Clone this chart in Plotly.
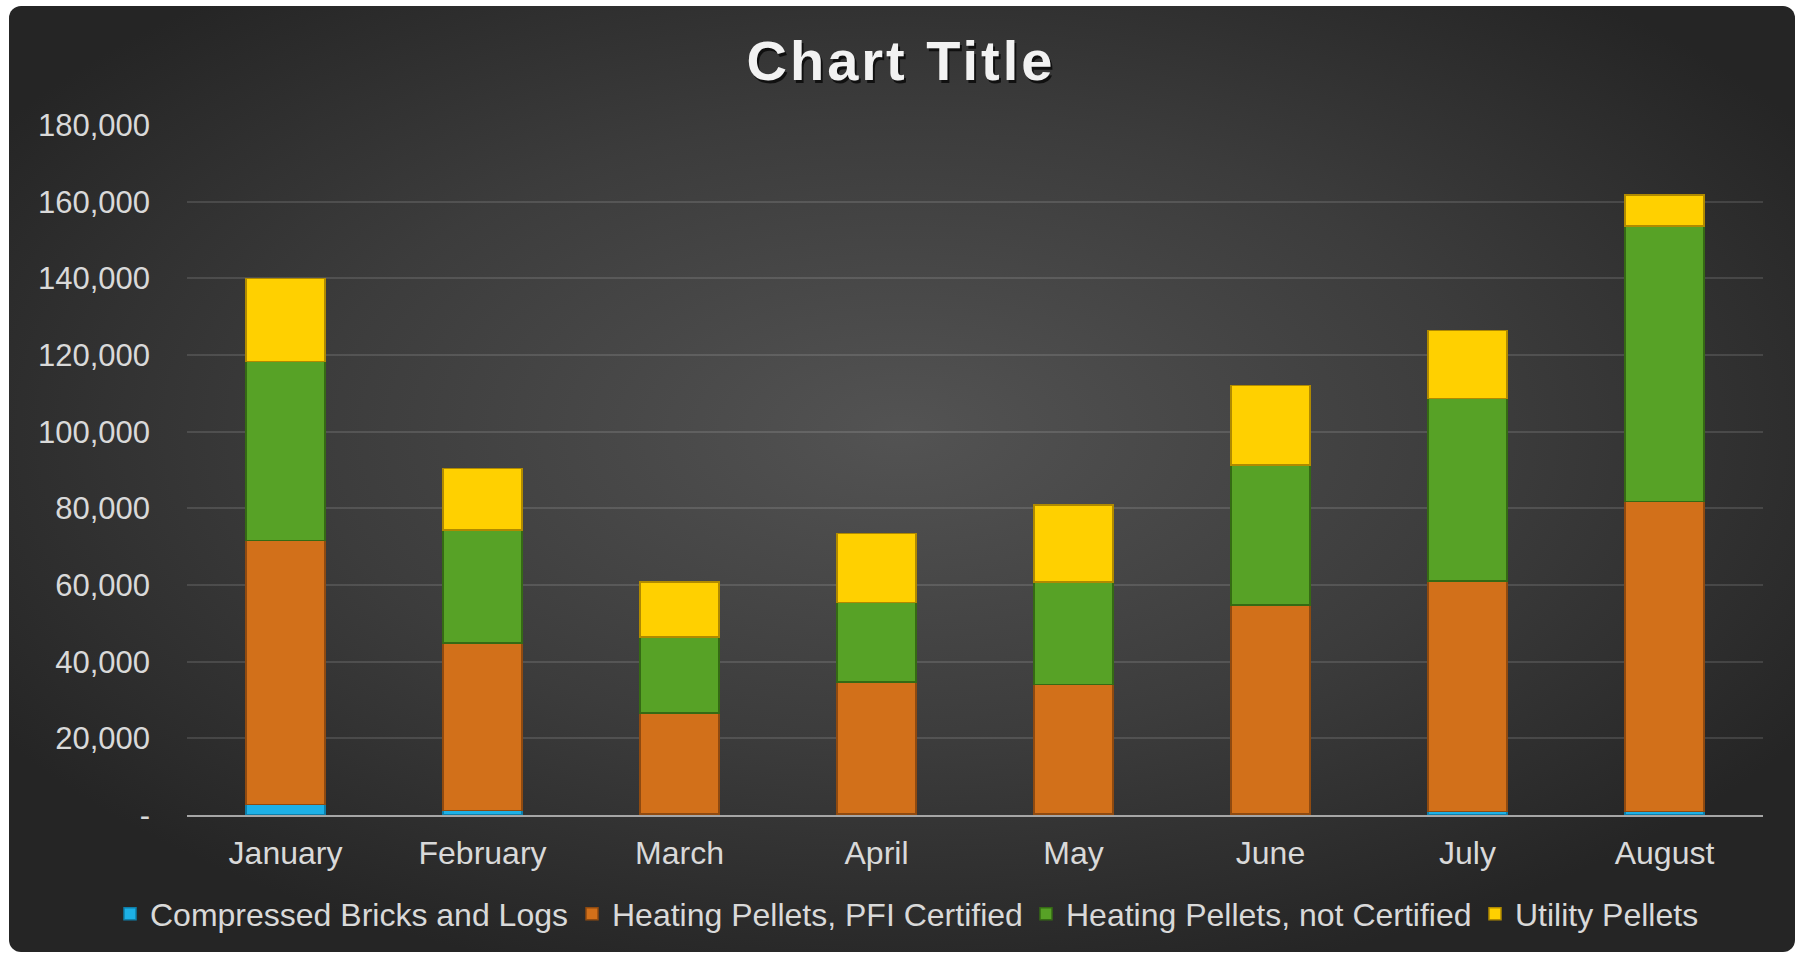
import plotly.graph_objects as go

# data
months = ["January", "February", "March", "April", "May", "June", "July", "August"]
compressed_bricks = [2700, 1200, 300, 200, 200, 300, 900, 900]
pfi_certified = [68900, 43700, 26350, 34500, 33900, 54500, 60200, 80900]
not_certified = [46700, 29400, 19750, 20700, 26700, 36550, 47600, 71900]
utility_pellets = [21700, 16150, 14400, 18000, 20100, 20650, 17700, 8100]

y_ticks = [0, 20000, 40000, 60000, 80000, 100000, 120000, 140000, 160000, 180000]
y_tick_text = ["-", "20,000", "40,000", "60,000", "80,000", "100,000",
               "120,000", "140,000", "160,000", "180,000"]

W, H = 1801, 954
ML, MR, MT, MB = 187, 38, 125, 139
PW, PH = W - ML - MR, H - MT - MB
FONT = "Liberation Sans, Arial, sans-serif"
TEXT = "#D9D9D9"

series = [
    ("Compressed Bricks and Logs", compressed_bricks, "#1DB0E6", "#0E7FAA"),
    ("Heating Pellets, PFI Certified", pfi_certified, "#D2701A", "#8F4A10"),
    ("Heating Pellets, not Certified", not_certified, "#57A226", "#356A14"),
    ("Utility Pellets", utility_pellets, "#FFD000", "#B08A00"),
]
# left edge (px) of each legend entry, one legend per series so the row does not wrap
legend_left = [110, 572, 1026, 1475]
legend_names = ["legend", "legend2", "legend3", "legend4"]

fig = go.Figure()
for (name, vals, col, edge), lg in zip(series, legend_names):
    fig.add_trace(go.Bar(
        x=months, y=vals, name=name, legend=lg,
        marker=dict(color=col, line=dict(color=edge, width=1.5)),
    ))

# dark rounded background with a soft radial glow
bg_svg = (
    "data:image/svg+xml;utf8,"
    "<svg xmlns='http://www.w3.org/2000/svg' width='1786' height='946' viewBox='0 0 1786 946'>"
    "<defs><radialGradient id='g' cx='50%' cy='45%' r='60%'>"
    "<stop offset='0%' stop-color='%23535353'/>"
    "<stop offset='55%' stop-color='%233c3c3c'/>"
    "<stop offset='100%' stop-color='%23252525'/>"
    "</radialGradient></defs>"
    "<rect x='0' y='0' width='1786' height='946' rx='12' ry='12' fill='url(%23g)'/>"
    "</svg>"
)
bx0, by0, bx1, by1 = 9, 6, 1795, 952
fig.add_layout_image(dict(
    source=bg_svg, xref="paper", yref="paper",
    x=(bx0 - ML) / PW, y=1 + (MT - by0) / PH,
    sizex=(bx1 - bx0) / PW, sizey=(by1 - by0) / PH,
    xanchor="left", yanchor="top", sizing="stretch", layer="below",
))

# title with a drop shadow
for dx, dy, c in [(2, -3, "rgba(0,0,0,0.7)"), (0, 0, "#F2F2F2")]:
    fig.add_annotation(
        text="<b>Chart Title</b>", xref="paper", yref="paper",
        x=(W / 2 - ML) / PW, y=1 + (MT - 60) / PH,
        xanchor="center", yanchor="middle", showarrow=False,
        xshift=dx, yshift=dy,
        font=dict(family=FONT, size=56, color=c),
    )

legend_style = dict(
    orientation="h", xref="container", yref="container",
    xanchor="left", y=1 - 914 / H, yanchor="middle",
    font=dict(family=FONT, size=32, color=TEXT),
    bgcolor="rgba(0,0,0,0)", itemwidth=30,
)
fig.update_layout(
    width=W, height=H,
    barmode="stack", bargap=0.6,
    paper_bgcolor="white", plot_bgcolor="rgba(0,0,0,0)",
    margin=dict(l=ML, r=MR, t=MT, b=MB, autoexpand=False),
    font=dict(family=FONT, size=32, color=TEXT),
    showlegend=True,
    **{lg: dict(legend_style, x=px / W) for lg, px in zip(legend_names, legend_left)},
)
fig.update_xaxes(
    showgrid=False, showline=True, linecolor="#A6A6A6", linewidth=2,
    ticks="", ticklabelstandoff=9,
    tickfont=dict(family=FONT, size=32, color=TEXT),
)
fig.update_yaxes(
    range=[0, 180000], tickvals=y_ticks, ticktext=y_tick_text,
    showgrid=True, gridcolor="rgba(255,255,255,0.12)", gridwidth=1.5,
    zeroline=False, showline=False, ticks="", ticklabelstandoff=36,
    tickfont=dict(family=FONT, size=31, color=TEXT),
)

# drop the default page margin and space out the title letters
post = """
document.body.style.margin = '0';
function fixTitle() {
  document.querySelectorAll('.annotation-text').forEach(function (t) {
    t.style.letterSpacing = '3px';
  });
}
fixTitle();
setTimeout(fixTitle, 100);
setTimeout(fixTitle, 500);
"""
fig.write_html("out.html", post_script=post, config={"displayModeBar": False})
